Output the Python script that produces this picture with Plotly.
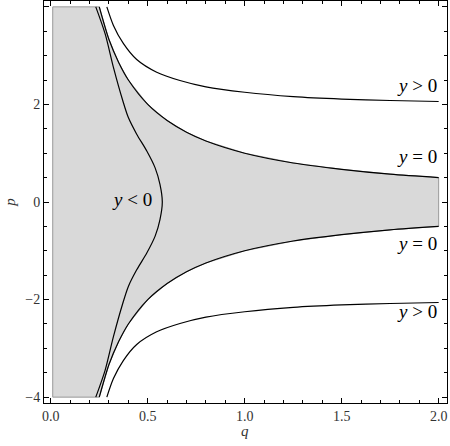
import plotly.graph_objects as go

# --- data ---
# inner bulging contour (q as a function of p), upper half incl. p=0
bulge_p = [4.0, 3.45, 2.76, 2.08, 1.73, 1.39, 1.045, 0.70, 0.36, 0.0]
bulge_q = [0.232, 0.28, 0.323, 0.371, 0.40, 0.443, 0.495, 0.538, 0.563, 0.575]

# y = 0 boundary (upper branch; lower branch mirrored)
zero_q = [0.25, 0.3, 0.35, 0.4, 0.5, 0.6, 0.7, 0.8, 1.0, 1.25, 1.5, 1.75, 2.0]
zero_p = [4.0, 3.33, 2.86, 2.5, 2.0, 1.67, 1.43, 1.25, 1.0, 0.8, 0.67, 0.57, 0.5]

# y > 0 contour (upper branch; lower branch mirrored)
pos_q = [0.289, 0.323, 0.374, 0.443, 0.546, 0.666, 0.8, 1.0, 1.25, 1.5, 1.75, 2.0]
pos_p = [4.0, 3.62, 3.25, 2.92, 2.66, 2.49, 2.36, 2.25, 2.16, 2.11, 2.08, 2.06]

# shaded region limits
q_min, q_max = 0.01, 2.0
p_min, p_max = -4.0, 4.0

x_ticks = [0.0, 0.5, 1.0, 1.5, 2.0]
x_tick_text = ["0.0", "0.5", "1.0", "1.5", "2.0"]
y_ticks = [-4, -2, 0, 2, 4]
y_tick_text = ["\u22124", "\u22122", "0", "2", "4"]

labels = [
    dict(q=2.0, p=2.39, text="<i>y</i> > 0"),
    dict(q=2.0, p=0.94, text="<i>y</i> = 0"),
    dict(q=2.0, p=-0.85, text="<i>y</i> = 0"),
    dict(q=2.0, p=-2.25, text="<i>y</i> > 0"),
]
inner_label = dict(q=0.42, p=0.05, text="<i>y</i> < 0")

SERIF = "Liberation Serif, Times New Roman, serif"

fig = go.Figure()

# gray region polygon
reg_x = [q_min, q_min] + zero_q + [q_max] + zero_q[::-1] + [q_min]
reg_y = [p_min, p_max] + zero_p + [-zero_p[-1]] + [-v for v in zero_p[::-1]] + [p_min]
fig.add_trace(go.Scatter(x=reg_x, y=reg_y, mode="lines", fill="toself",
                         fillcolor="#d9d9d9", line=dict(color="#999999", width=1),
                         hoverinfo="skip", showlegend=False))

curve_line = dict(color="black", width=1.2, shape="spline", smoothing=0.8)

# bulge curve full (mirror)
bx = bulge_q + bulge_q[-2::-1]
by = bulge_p + [-v for v in bulge_p[-2::-1]]
fig.add_trace(go.Scatter(x=bx, y=by, mode="lines", line=curve_line,
                         showlegend=False, hoverinfo="skip"))

for qs, ps in [(zero_q, zero_p), (pos_q, pos_p)]:
    fig.add_trace(go.Scatter(x=qs, y=ps, mode="lines", line=curve_line,
                             showlegend=False, hoverinfo="skip"))
    fig.add_trace(go.Scatter(x=qs, y=[-v for v in ps], mode="lines", line=curve_line,
                             showlegend=False, hoverinfo="skip"))

for lb in labels:
    fig.add_annotation(x=lb["q"], y=lb["p"], text=lb["text"], showarrow=False,
                       xanchor="right", yanchor="middle",
                       font=dict(family=SERIF, size=19, color="black"))
fig.add_annotation(x=inner_label["q"], y=inner_label["p"], text=inner_label["text"], showarrow=False,
                   xanchor="center", yanchor="middle",
                   font=dict(family=SERIF, size=19, color="black"))

# axis titles
fig.add_annotation(x=1.0, y=-0.07, xref="x", yref="paper", text="<i>q</i>", showarrow=False,
                   yanchor="middle", font=dict(family=SERIF, size=15, color="#333"))
fig.add_annotation(x=-0.085, y=0.0, xref="paper", yref="y", text="<i>p</i>", showarrow=False,
                   textangle=-90, xanchor="center", yanchor="middle",
                   font=dict(family=SERIF, size=15, color="#333"))

axis_common = dict(showgrid=False, zeroline=False, showline=True, linecolor="black", linewidth=1,
                   mirror="allticks", ticks="inside", ticklen=5, tickwidth=1, tickcolor="black",
                   automargin=False,
                   tickfont=dict(family=SERIF, size=14, color="#333"))

fig.update_xaxes(range=[-0.035, 2.043], tickvals=x_ticks, ticktext=x_tick_text,
                 minor=dict(dtick=0.1, ticks="inside", ticklen=3, tickcolor="black", showgrid=False),
                 **axis_common)
fig.update_yaxes(range=[-4.12, 4.12], tickvals=y_ticks, ticktext=y_tick_text,
                 minor=dict(dtick=0.5, ticks="inside", ticklen=3, tickcolor="black", showgrid=False),
                 **axis_common)

fig.update_layout(width=450, height=446, margin=dict(l=44, r=3, t=1, b=43),
                  plot_bgcolor="white", paper_bgcolor="white", showlegend=False)

fig.write_html("out.html", config={"displayModeBar": False},
               post_script="document.body.style.margin='0';document.body.style.overflow='hidden';")
